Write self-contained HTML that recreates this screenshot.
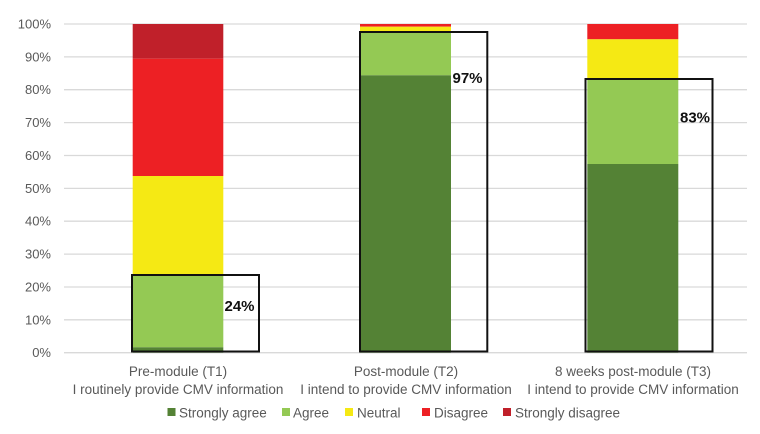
<!DOCTYPE html>
<html><head><meta charset="utf-8"><style>html,body{margin:0;padding:0;background:#fff}svg{display:block}</style></head><body>
<svg width="760" height="434" xmlns="http://www.w3.org/2000/svg" font-family="Liberation Sans, sans-serif">
<g stroke="#d9d9d9" stroke-width="1.3">
<line x1="64" x2="747" y1="24" y2="24"/><line x1="64" x2="747" y1="56.9" y2="56.9"/><line x1="64" x2="747" y1="89.7" y2="89.7"/><line x1="64" x2="747" y1="122.6" y2="122.6"/><line x1="64" x2="747" y1="155.5" y2="155.5"/><line x1="64" x2="747" y1="188.4" y2="188.4"/><line x1="64" x2="747" y1="221.2" y2="221.2"/><line x1="64" x2="747" y1="254.1" y2="254.1"/><line x1="64" x2="747" y1="287" y2="287"/><line x1="64" x2="747" y1="319.8" y2="319.8"/><line x1="64" x2="747" y1="352.7" y2="352.7"/>
</g>
<g font-size="13" fill="#595959" text-anchor="end">
<text x="51" y="28.5">100%</text><text x="51" y="61.4">90%</text><text x="51" y="94.2">80%</text><text x="51" y="127.1">70%</text><text x="51" y="160">60%</text><text x="51" y="192.9">50%</text><text x="51" y="225.7">40%</text><text x="51" y="258.6">30%</text><text x="51" y="291.5">20%</text><text x="51" y="324.3">10%</text><text x="51" y="357.2">0%</text>
</g>
<!-- bar1 -->
<rect x="132.7" y="24" width="90.6" height="34.7" fill="#c0202a"/>
<rect x="132.7" y="58.7" width="90.6" height="117.3" fill="#ed2024"/>
<rect x="132.7" y="176" width="90.6" height="98.7" fill="#f5e914"/>
<rect x="132.7" y="274.7" width="90.6" height="72.6" fill="#94c954"/>
<rect x="132.7" y="347.3" width="90.6" height="5.4" fill="#548235"/>
<!-- bar2 -->
<rect x="360" y="24" width="91" height="2.7" fill="#ed2024"/>
<rect x="360" y="26.7" width="91" height="5.3" fill="#f5e914"/>
<rect x="360" y="32" width="91" height="43.3" fill="#94c954"/>
<rect x="360" y="75.3" width="91" height="277.4" fill="#548235"/>
<!-- bar3 -->
<rect x="587.3" y="24" width="91" height="15.3" fill="#ed2024"/>
<rect x="587.3" y="39.3" width="91" height="39.4" fill="#f5e914"/>
<rect x="587.3" y="78.7" width="91" height="85.3" fill="#94c954"/>
<rect x="587.3" y="164" width="91" height="188.7" fill="#548235"/>
<g fill="none" stroke="#111" stroke-width="2">
<rect x="132" y="275" width="127" height="76.5"/>
<rect x="360" y="32" width="127.3" height="319.5"/>
<rect x="585.5" y="79" width="127" height="272.5"/>
</g>
<g font-size="15" font-weight="bold" fill="#111">
<text x="224.5" y="311">24%</text><text x="452.5" y="83">97%</text><text x="680" y="122.5">83%</text>
</g>
<g font-size="13.5" fill="#595959" text-anchor="middle">
<text x="178" y="376">Pre-module (T1)</text><text x="178" y="394">I routinely provide CMV information</text>
<text x="406" y="376">Post-module (T2)</text><text x="406" y="394">I intend to provide CMV information</text>
<text x="633" y="376">8 weeks post-module (T3)</text><text x="633" y="394">I intend to provide CMV information</text>
</g>
<g font-size="13.5" fill="#595959">
<rect x="167.5" y="408" width="8" height="8" fill="#548235"/><text x="179" y="417.5">Strongly agree</text>
<rect x="282" y="408" width="8" height="8" fill="#94c954"/><text x="293" y="417.5">Agree</text>
<rect x="345" y="408" width="8" height="8" fill="#f5e914"/><text x="357" y="417.5">Neutral</text>
<rect x="422" y="408" width="8" height="8" fill="#ed2024"/><text x="434" y="417.5">Disagree</text>
<rect x="503" y="408" width="8" height="8" fill="#c0202a"/><text x="515" y="417.5">Strongly disagree</text>
</g>
</svg>
</body></html>
